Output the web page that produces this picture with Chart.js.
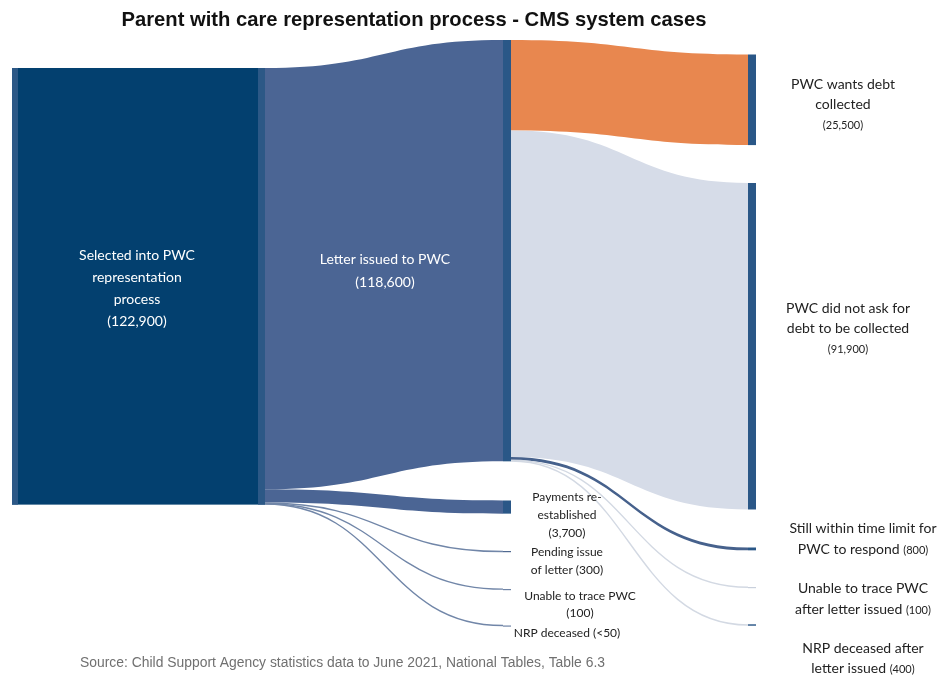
<!DOCTYPE html>
<html>
<head>
<meta charset="utf-8">
<script src="https://cdn.jsdelivr.net/npm/chart.js@4.4.0/dist/chart.umd.min.js"></script>
<style>
  html, body { margin: 0; padding: 0; background: #fff; }
  #wrap { width: 948px; height: 675px; }
</style>
</head>
<body>
<div id="wrap"><canvas id="sankey" width="948" height="675"></canvas></div>
<script>
// data
const nodeNames = [
    'Selected into PWC representation process', 'Letter issued to PWC',
    'Payments re-established', 'Pending issue of letter', 'Unable to trace PWC', 'NRP deceased',
    'PWC wants debt collected', 'PWC did not ask for debt to be collected',
    'Still within time limit for PWC to respond', 'Unable to trace PWC after letter issued',
    'NRP deceased after letter issued'
];
const nodeValues = [122900, 118600, 3700, 300, 100, 40, 25500, 91900, 800, 100, 400];

const linkFrom   = [0, 0, 0, 0, 0, 1, 1, 1, 1, 1];
const linkTo     = [1, 2, 3, 4, 5, 6, 7, 8, 9, 10];
const linkValues = [118600, 3700, 300, 100, 40, 25500, 91900, 800, 100, 400];

const nodeLabels = [
    ['Selected into PWC', 'representation', 'process', '(122,900)'],
    ['Letter issued to PWC', '(118,600)'],
    ['Payments re-', 'established', '(3,700)'],
    ['Pending issue', 'of letter (300)'],
    ['Unable to trace PWC', '(100)'],
    ['NRP deceased (<50)'],
    ['PWC wants debt', 'collected', '(25,500)'],
    ['PWC did not ask for', 'debt to be collected', '(91,900)'],
    ['Still within time limit for', 'PWC to respond (800)'],
    ['Unable to trace PWC', 'after letter issued (100)'],
    ['NRP deceased after', 'letter issued (400)']
];

const titleText = 'Parent with care representation process - CMS system cases';
const sourceText = 'Source: Child Support Agency statistics data to June 2021, National Tables, Table 6.3';

// layout (x in pixels on the x scale, y in cases on the y scale)
const nodeLeft  = [12, 503, 503, 503, 503, 503, 748, 748, 748, 748, 748];
const nodeRight = [265, 511, 511, 511, 511, 511, 756, 756, 756, 756, 756];
const nodeTop   = [19140, 11260, 140880, 155100, 165790, 176060, 15340, 51510, 154110, 165230, 175730];
const nodeColors = ['#03406f', '#2a5787', '#2a5787', '#4f6890', '#6f84a6', '#6f84a6',
                    '#2a5787', '#2a5787', '#2a5787', '#c9d0dc', '#2a5787'];
const linkColors = ['#4b6594', '#4b6594', '#7186a8', '#7186a8', '#7186a8',
                    '#e8874f', '#d6dce8', '#46618c', '#d3d9e3', '#d3d9e3'];
const labelX = [137, 385, 567, 567, 580, 567, 843, 848, 863, 863, 863];
const labelY = [255, 259, 497, 552, 596, 633, 84, 308, 528, 588, 648];
const labelLH = [22, 23, 18, 18, 17, 18, 20, 20, 21, 21, 20];
const labelSize = [14, 14, 12, 12, 12, 12, 14, 14, 14, 14, 14];
const labelColor = ['#ffffff', '#ffffff', '#222', '#222', '#222', '#222', '#222', '#222', '#222', '#222', '#222'];

function drawLine(ctx, text, cx, y, size, smallParen) {
    const idx = smallParen ? text.indexOf('(') : -1;
    if (idx < 0) {
        ctx.font = size + 'px Lato';
        ctx.textAlign = 'center';
        ctx.fillText(text, cx, y);
        return;
    }
    const a = text.slice(0, idx), b = text.slice(idx);
    ctx.font = size + 'px Lato';
    const wa = ctx.measureText(a).width;
    ctx.font = (size - 3) + 'px Lato';
    const wb = ctx.measureText(b).width;
    let x = cx - (wa + wb) / 2;
    ctx.textAlign = 'left';
    ctx.font = size + 'px Lato';
    ctx.fillText(a, x, y);
    ctx.font = (size - 3) + 'px Lato';
    ctx.fillText(b, x + wa, y + 1);
}

const sankeyPlugin = {
    id: 'sankey',
    afterDatasetsDraw(chart) {
        const ctx = chart.ctx;
        const xs = chart.scales.x, ys = chart.scales.y;
        const outOffset = nodeValues.map(() => 0);
        const inOffset = nodeValues.map(() => 0);

        ctx.save();
        // links
        linkValues.forEach((v, i) => {
            const s = linkFrom[i], t = linkTo[i];
            const sx = xs.getPixelForValue(nodeRight[s]);
            const tx = xs.getPixelForValue(nodeLeft[t]);
            const sy0 = ys.getPixelForValue(nodeTop[s] + outOffset[s]);
            const sy1 = ys.getPixelForValue(nodeTop[s] + outOffset[s] + v);
            const ty0 = ys.getPixelForValue(nodeTop[t] + inOffset[t]);
            const ty1 = ys.getPixelForValue(nodeTop[t] + inOffset[t] + v);
            outOffset[s] += v;
            inOffset[t] += v;
            const mx = (sx + tx) / 2;
            if (sy1 - sy0 < 2) {
                const a = (sy0 + sy1) / 2, b = (ty0 + ty1) / 2;
                ctx.beginPath();
                ctx.moveTo(sx, a);
                ctx.bezierCurveTo(mx, a, mx, b, tx, b);
                ctx.lineWidth = Math.max(sy1 - sy0, 1.4);
                ctx.strokeStyle = linkColors[i];
                ctx.stroke();
            } else {
                ctx.beginPath();
                ctx.moveTo(sx, sy0);
                ctx.bezierCurveTo(mx, sy0, mx, ty0, tx, ty0);
                ctx.lineTo(tx, ty1);
                ctx.bezierCurveTo(mx, ty1, mx, sy1, sx, sy1);
                ctx.closePath();
                ctx.fillStyle = linkColors[i];
                ctx.fill();
            }
        });

        // nodes
        nodeValues.forEach((v, i) => {
            const x0 = xs.getPixelForValue(nodeLeft[i]);
            const x1 = xs.getPixelForValue(nodeRight[i]);
            const y0 = ys.getPixelForValue(nodeTop[i]);
            const y1 = ys.getPixelForValue(nodeTop[i] + v);
            ctx.fillStyle = nodeColors[i];
            ctx.fillRect(x0, y0, x1 - x0, Math.max(y1 - y0, 1.2));
            if (i === 0) {
                ctx.fillStyle = '#2c5886';
                ctx.fillRect(x0, y0, 6, y1 - y0);
                ctx.fillRect(x1 - 7, y0, 7, y1 - y0);
            }
        });

        // labels
        ctx.textBaseline = 'middle';
        nodeLabels.forEach((lines, i) => {
            ctx.fillStyle = labelColor[i];
            lines.forEach((line, k) => {
                drawLine(ctx, line, labelX[i], labelY[i] + k * labelLH[i], labelSize[i], i >= 6);
            });
        });

        ctx.textAlign = 'center';
        ctx.fillStyle = '#111';
        ctx.font = 'bold 21px "Liberation Sans"';
        ctx.fillText(titleText, 414, 20, 585);

        ctx.textAlign = 'left';
        ctx.fillStyle = '#707070';
        ctx.font = '14px "Liberation Sans"';
        ctx.fillText(sourceText, 80, 663, 525);
        ctx.restore();
    }
};

new Chart(document.getElementById('sankey'), {
    type: 'scatter',
    data: { datasets: [] },
    options: {
        responsive: false,
        animation: false,
        devicePixelRatio: 1,
        layout: { padding: 0 },
        plugins: { legend: { display: false }, tooltip: { enabled: false } },
        scales: {
            x: { type: 'linear', display: false, min: 0, max: 948 },
            y: { type: 'linear', display: false, min: 0, max: 190000, reverse: true }
        }
    },
    plugins: [sankeyPlugin]
});
</script>
</body>
</html>
